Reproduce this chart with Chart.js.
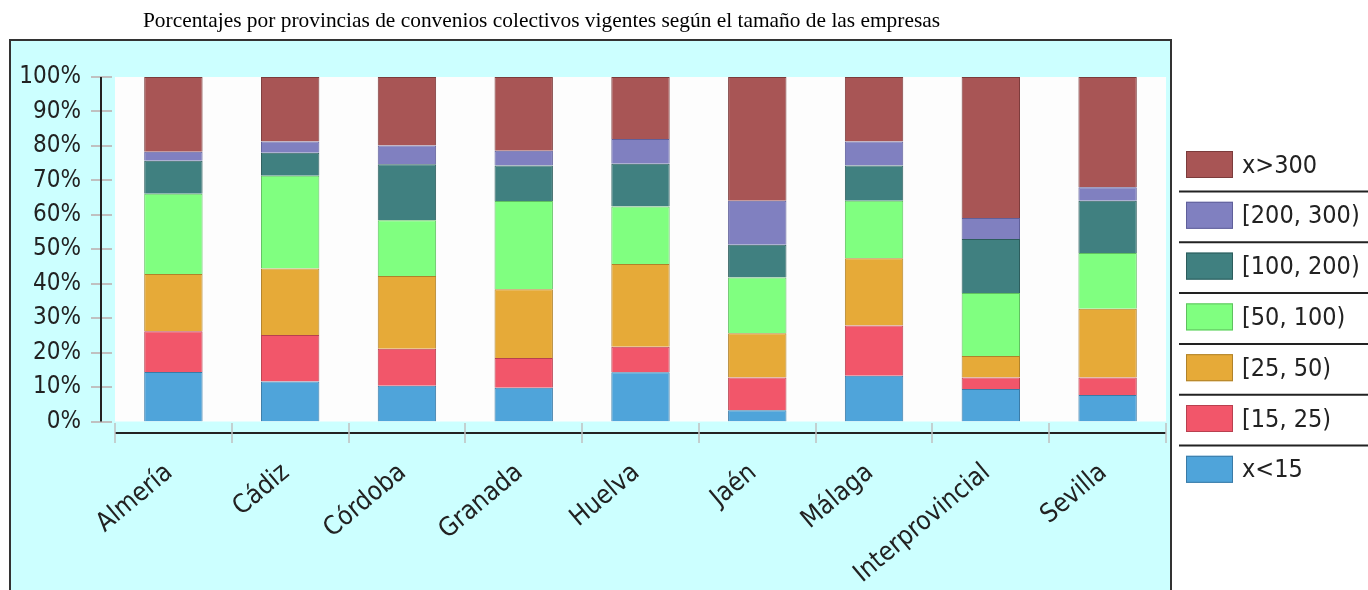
<!DOCTYPE html>
<html>
<head>
<meta charset="utf-8">
<script src="https://cdn.jsdelivr.net/npm/chart.js@4/dist/chart.umd.min.js"></script>
<style>
  html, body { margin: 0; padding: 0; background: #fff; }
  #wrap { width: 1368px; height: 590px; position: relative; }
</style>
</head>
<body>
<div id="wrap"><canvas id="convChart"></canvas></div>
<script>
const provincias = ['Almería', 'Cádiz', 'Córdoba', 'Granada', 'Huelva', 'Jaén', 'Málaga', 'Interprovincial', 'Sevilla'];

// percentages per company size, bottom to top of each bar
const menos15 = [14.4, 11.6, 10.4, 9.8, 14.3, 3.3, 13.3, 9.4, 7.7];
const de15a25 = [11.8, 13.5, 10.7, 8.6, 7.4, 9.5, 14.6, 3.4, 5.1];
const de25a50 = [16.6, 19.3, 21.1, 20.0, 24.0, 12.8, 19.5, 6.2, 19.9];
const de50a100 = [23.3, 26.9, 16.2, 25.6, 16.7, 16.2, 16.7, 18.3, 16.2];
const de100a200 = [9.6, 6.7, 16.3, 10.3, 12.4, 9.5, 10.2, 15.7, 15.2];
const de200a300 = [2.6, 3.3, 5.4, 4.3, 7.2, 12.8, 7.0, 6.1, 3.9];
const mas300 = [21.7, 18.7, 19.9, 21.4, 18.0, 35.9, 18.7, 40.9, 32.0];

const seriesLabels = ['x<15', '[15, 25)', '[25, 50)', '[50, 100)', '[100, 200)', '[200, 300)', 'x>300'];
const seriesData = [menos15, de15a25, de25a50, de50a100, de100a200, de200a300, mas300];
const fills = ['#4fa4da', '#f2566a', '#e6aa38', '#80ff80', '#408080', '#8080c0', '#a85555'];
const edges = ['#3a7aa6', '#b8404f', '#b0822a', '#5fc05f', '#2c5c5c', '#5f5f9a', '#7c3c3c'];

const FONT = '"DejaVu Sans Condensed", "DejaVu Sans", sans-serif';

const decor = {
    id: 'decor',
    beforeDraw(chart) {
        const ctx = chart.ctx;
        const a = chart.chartArea;
        ctx.save();
        ctx.fillStyle = '#ffffff';
        ctx.fillRect(0, 0, chart.width, chart.height);
        // cyan chart box
        ctx.fillStyle = '#ccffff';
        ctx.fillRect(10, 40, 1161, 560);
        ctx.strokeStyle = '#333';
        ctx.lineWidth = 2;
        ctx.strokeRect(10, 40, 1161, 560);
        // plot background
        ctx.fillStyle = '#fdfdfd';
        ctx.fillRect(a.left, a.top, a.right - a.left, a.bottom - a.top);
        // title
        ctx.fillStyle = '#000';
        ctx.font = '21.4px "Liberation Serif", serif';
        ctx.textAlign = 'center';
        ctx.textBaseline = 'alphabetic';
        ctx.fillText('Porcentajes por provincias de convenios colectivos vigentes según el tamaño de las empresas', 541.5, 27);
        ctx.restore();
    },
    afterDraw(chart) {
        const ctx = chart.ctx;
        const a = chart.chartArea;
        const ys = chart.scales.y;
        const xs = chart.scales.x;
        ctx.save();
        // y ticks + axis
        ctx.strokeStyle = '#c0c0c0';
        ctx.lineWidth = 2;
        ys.ticks.forEach((t, i) => {
            const y = Math.round(ys.getPixelForTick(i));
            ctx.beginPath();
            ctx.moveTo(91, y);
            ctx.lineTo(112, y);
            ctx.stroke();
        });
        ctx.strokeStyle = '#222';
        ctx.beginPath();
        ctx.moveTo(101, ys.getPixelForValue(100));
        ctx.lineTo(101, ys.getPixelForValue(0));
        ctx.stroke();
        // x axis + category boundary ticks
        const axisY = 433;
        ctx.beginPath();
        ctx.moveTo(a.left, axisY);
        ctx.lineTo(a.right, axisY);
        ctx.stroke();
        ctx.strokeStyle = '#c0c0c0';
        ctx.lineWidth = 1.5;
        const n = provincias.length;
        const step = xs.width / n;
        for (let i = 0; i <= n; i++) {
            const x = Math.round(xs.left + i * step);
            ctx.beginPath();
            ctx.moveTo(x, 423);
            ctx.lineTo(x, 443);
            ctx.stroke();
        }
        // legend, largest size class on top
        const items = chart.data.datasets.map((d, i) => i).reverse();
        ctx.font = '25px ' + FONT;
        ctx.textAlign = 'left';
        ctx.textBaseline = 'middle';
        items.forEach((di, k) => {
            const ds = chart.data.datasets[di];
            const top = 151 + k * 50.8;
            ctx.fillStyle = ds.backgroundColor;
            ctx.fillRect(1186, top, 47, 27);
            ctx.strokeStyle = ds.borderColor;
            ctx.lineWidth = 1;
            ctx.strokeRect(1186.5, top + 0.5, 46, 26);
            ctx.fillStyle = '#222';
            ctx.fillText(ds.label, 1242, top + 15);
            if (k < items.length - 1) {
                ctx.strokeStyle = '#222';
                ctx.lineWidth = 2;
                ctx.beginPath();
                ctx.moveTo(1179, top + 40.5);
                ctx.lineTo(1368, top + 40.5);
                ctx.stroke();
            }
        });
        ctx.restore();
    }
};

new Chart(document.getElementById('convChart'), {
    type: 'bar',
    data: {
        labels: provincias,
        datasets: seriesData.map((vals, i) => ({
            label: seriesLabels[i],
            data: vals,
            backgroundColor: fills[i],
            borderColor: edges[i],
            borderWidth: 1,
            barPercentage: 0.5,
            categoryPercentage: 1.0
        }))
    },
    options: {
        responsive: true,
        maintainAspectRatio: false,
        animation: false,
        layout: { padding: { left: 0, top: 77, right: 202, bottom: 0 } },
        plugins: {
            legend: { display: false },
            title: { display: false },
            tooltip: { enabled: false }
        },
        scales: {
            x: {
                stacked: true,
                border: { display: false },
                grid: { display: false, drawTicks: false },
                ticks: {
                    autoSkip: false,
                    maxRotation: 40,
                    minRotation: 40,
                    padding: 36,
                    labelOffset: -4,
                    color: '#222',
                    font: { family: FONT, size: 26 }
                },
                afterFit(s) { s.height = 168.5; }
            },
            y: {
                stacked: true,
                min: 0,
                max: 100,
                border: { display: false },
                grid: { display: false, drawTicks: false },
                ticks: {
                    stepSize: 10,
                    padding: 34,
                    color: '#222',
                    font: { family: FONT, size: 24 },
                    callback: v => v + '%'
                },
                afterFit(s) { s.width = 115; }
            }
        }
    },
    plugins: [decor]
});
</script>
</body>
</html>
